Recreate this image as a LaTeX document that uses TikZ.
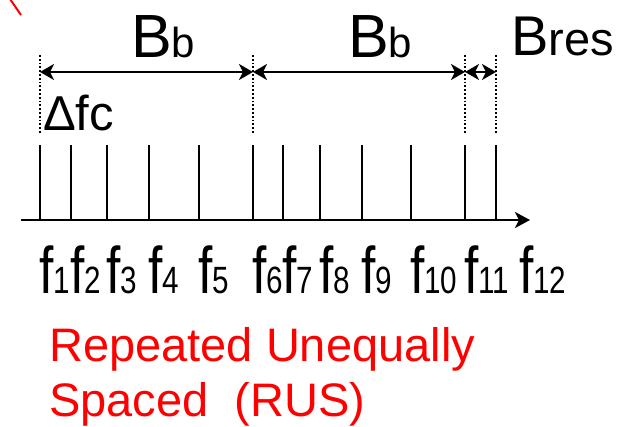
\documentclass[tikz,border=0pt]{standalone}
\usepackage{fontspec}
\setmainfont{Liberation Sans}
\newfontfamily\narrowsf[FakeStretch=0.78]{Liberation Sans}
\usetikzlibrary{arrows.meta,positioning}
\definecolor{rusred}{RGB}{255,0,0}

\newcommand{\fsub}[1]{{\narrowsf\fontsize{66}{66}\selectfont f}{\narrowsf\fontsize{38}{38}\selectfont #1}}

\tikzset{
  flabel/.style={anchor=base west, inner sep=0pt},
  span/.style={line width=2pt, {Stealth[length=14pt,width=16pt,inset=4pt]}-{Stealth[length=14pt,width=16pt,inset=4pt]}},
  guide/.style={line width=1.8pt, dotted},
}

\begin{document}
\begin{tikzpicture}[x=1pt,y=-1pt]
  \useasboundingbox (0,0) rectangle (632,426);

  % red stroke in the corner
  \draw[rusred, line width=2pt] (10,-1) -- (21,15);

  % frequency axis
  \coordinate (ax0) at (21,220);
  \coordinate (ax1) at (530,220);
  \draw[line width=2.2pt, -{Stealth[length=15pt,width=16pt,inset=4pt]}] (ax0) -- (ax1);

  % carriers
  \foreach \x [count=\i] in {40,71,107,149,199,253,283,320,362,411,465,496} {
    \coordinate (t\i) at (\x,220);
    \draw[line width=1.8pt] (t\i) -- ++(0,-75);
  }

  % carrier labels
  \foreach \x [count=\i] in {39,70,106,148,198,252,282,319,361,410,464,519} {
    \node[flabel] (f\i) at (\x,293) {\fsub{\i}};
  }

  % band edges
  \foreach \i in {1,6,11,12} {
    \path (t\i) ++(0,-165) coordinate (gt\i);
    \path (t\i) ++(0,-87) coordinate (gb\i);
    \path (t\i) ++(0,-148) coordinate (a\i);
    \draw[guide] (gt\i) -- (gb\i);
  }

  % bandwidths
  \draw[span] (a1) -- (a6);
  \draw[span] (a6) -- (a11);
  \draw[span] (a11) -- (a12);
  \node[flabel, font=\fontsize{61}{61}\selectfont] (bb1) at (131,57) {B{\fontsize{42}{42}\selectfont b}};
  \node[flabel, font=\fontsize{61}{61}\selectfont] (bb2) at (348,57) {B{\fontsize{42}{42}\selectfont b}};
  \node[flabel, font=\fontsize{56}{56}\selectfont] (bres) at (511,55) {B{\fontsize{47}{47}\selectfont res}};

  % carrier spacing
  \node[flabel, font=\fontsize{49}{49}\selectfont] (dfc) at (43,130) {Δfc};

  % scheme name
  \node[anchor=north west, inner sep=0pt, align=left, text=rusred,
        font=\fontsize{47}{55}\selectfont] (rus) at (49,327)
        {Repeated Unequally\\Spaced~~(RUS)};
\end{tikzpicture}
\end{document}
